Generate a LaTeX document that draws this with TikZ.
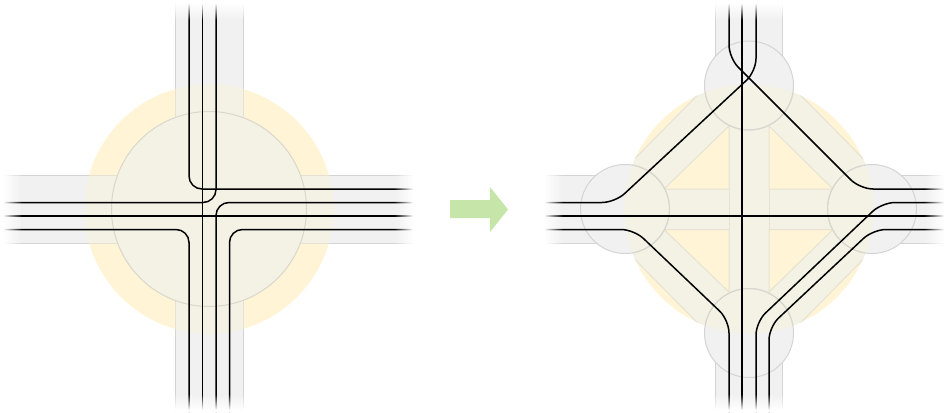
\documentclass[tikz,border=0pt]{standalone}
\usetikzlibrary{fadings}
\definecolor{roadfill}{HTML}{F1F1F1}
\definecolor{roadedge}{HTML}{D4D4D4}
\definecolor{zone}{HTML}{FFF4D6}
\definecolor{beige}{HTML}{F4F2E5}
\definecolor{beigeedge}{HTML}{E6E2D3}
\definecolor{circedge}{HTML}{D9D6CC}
\definecolor{arrowgreen}{HTML}{C6E5A8}
\tikzset{
  roadbody/.style={fill=roadfill,draw=none},
  roadline/.style={draw=roadedge,line width=1pt},
  beigebody/.style={fill=beige,draw=none},
  beigeline/.style={draw=beigeedge,line width=1pt},
  track/.style={draw=black,line width=1.5pt,rounded corners=13pt},
  whitefade/.style={fill=white,draw=none},
}
\begin{document}
\begin{tikzpicture}[x=1pt,y=-1pt]
\useasboundingbox (0,0) rectangle (944,412);
\fill[white] (0,0) rectangle (944,412);
% ---------- LEFT PANEL ----------
\fill[roadbody] (175.5,0) rectangle (243,412);
\fill[roadbody] (0,175.5) rectangle (416,243);
\draw[roadline] (175.5,0) -- (175.5,412) (243,0) -- (243,412);
\draw[roadline] (0,175.5) -- (416,175.5) (0,243) -- (416,243);
\fill[zone] (209,209) circle[radius=124.5];
\begin{scope}
  \clip (209,209) circle[radius=124.5];
  \fill[beigebody] (175.5,0) rectangle (243,412);
  \fill[beigebody] (0,175.5) rectangle (416,243);
  \draw[beigeline] (175.5,0) -- (175.5,412) (243,0) -- (243,412);
  \draw[beigeline] (0,175.5) -- (416,175.5) (0,243) -- (416,243);
\end{scope}
\draw[fill=beige,draw=circedge,line width=1pt] (209,209) circle[radius=97.5];
\draw[track] (189,0) -- (189,189) -- (416,189);
\draw[track] (216,0) -- (216,202.5) -- (0,202.5);
\draw[track,line width=1.3pt] (202.5,0) -- (202.5,412);
\draw[track] (0,216) -- (416,216);
\draw[track] (0,229.5) -- (189,229.5) -- (189,412);
\draw[track] (416,202.5) -- (216,202.5) -- (216,412);
\draw[track] (416,229.5) -- (229.5,229.5) -- (229.5,412);
% ---------- ARROW ----------
\fill[arrowgreen] (450,200) -- (490,200) -- (490,187) -- (508,209.5) -- (490,232) -- (490,218) -- (450,218) -- cycle;
% ---------- RIGHT PANEL ----------
\fill[roadbody] (715,0) rectangle (782,412);
\fill[roadbody] (540,175.5) rectangle (944,243);
\draw[roadline] (715,0) -- (715,412) (782,0) -- (782,412);
\draw[roadline] (540,175.5) -- (944,175.5) (540,243) -- (944,243);
\fill[zone] (749,209) circle[radius=124.5];
\begin{scope}
  \clip (749,209) circle[radius=124.5];
  \fill[beigebody] (749,43) -- (585,209) -- (749,375) -- (913,209) -- cycle;
  \draw[beigeline] (749,43) -- (585,209) -- (749,375) -- (913,209) -- cycle;
\end{scope}
\path[fill=zone,draw=beigeedge,line width=1pt] (664,189) -- (729,189) -- (729,126) -- cycle;
\path[fill=zone,draw=beigeedge,line width=1pt] (769,126) -- (769,189) -- (833,189) -- cycle;
\path[fill=zone,draw=beigeedge,line width=1pt] (664,229.5) -- (729,229.5) -- (729,292) -- cycle;
\path[fill=zone,draw=beigeedge,line width=1pt] (769,292) -- (769,229.5) -- (833,229.5) -- cycle;
\draw[beigeline] (729,189) -- (729,229.5) (769,189) -- (769,229.5);
% junction circles
\foreach \cx/\cy in {749/85.5,625/209,872/209,749/333}{
  \fill[roadfill] (\cx,\cy) circle[radius=44.5];
  \begin{scope}
    \clip (749,209) circle[radius=124.5];
    \fill[beige] (\cx,\cy) circle[radius=44.5];
  \end{scope}
  \draw[draw=roadedge,line width=1pt] (\cx,\cy) circle[radius=44.5];
  \begin{scope}
    \clip (749,209) circle[radius=124.5];
    \draw[draw=circedge,line width=1pt] (\cx,\cy) circle[radius=44.5];
  \end{scope}
}
\draw[track] (729,0) -- (729,58) -- (860,189) -- (944,189);
\draw[track] (756,0) -- (756,71.5) -- (615,202.5) -- (540,202.5);
\draw[track] (742,0) -- (742,412);
\draw[track] (540,216) -- (944,216);
\draw[track] (540,229.5) -- (634,229.5) -- (729,320) -- (729,412);
\draw[track] (944,202.5) -- (882,202.5) -- (756,322) -- (756,412);
\draw[track] (944,229.5) -- (873,229.5) -- (769,327) -- (769,412);
% ---------- END FADES ----------
\foreach \xa/\xb in {170/250,710/790}{
  \fill[whitefade] (\xa,0) rectangle (\xb,3);
  \fill[whitefade,path fading=south] (\xa,3) rectangle (\xb,20);
  \fill[whitefade,path fading=north] (\xa,394) rectangle (\xb,410);
  \fill[whitefade] (\xa,410) rectangle (\xb,412);
}
\fill[whitefade] (0,170) rectangle (3,250);
\fill[whitefade,path fading=east] (3,170) rectangle (22,250);
\fill[whitefade,path fading=west] (394,170) rectangle (413,250);
\fill[whitefade] (413,170) rectangle (420,250);
\fill[whitefade] (530,170) rectangle (544,250);
\fill[whitefade,path fading=east] (544,170) rectangle (563,250);
\fill[whitefade,path fading=west] (924,170) rectangle (944,250);
\end{tikzpicture}
\end{document}
